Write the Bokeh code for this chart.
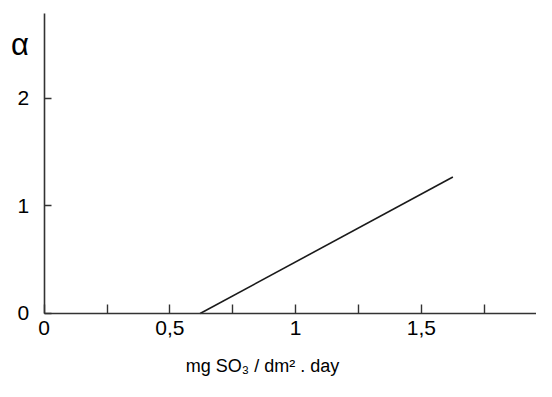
from bokeh.plotting import figure
from bokeh.models import Range1d, FixedTicker, Label
from bokeh.embed import file_html
from bokeh.resources import INLINE

# data
line_x = [0.62, 1.625]
line_y = [0.0, 1.27]
x_major = [0, 0.5, 1, 1.5]
x_minor = [0.25, 0.75, 1.25, 1.75]
x_labels = ["0", "0,5", "1", "1,5"]
y_major = [0, 1, 2]
y_labels = ["0", "1", "2"]
x_title = "mg SO\u2083 / dm\u00b2 . day"
y_title = "\u03b1"

FONT = "Liberation Sans"
W, H = 536, 381

p = figure(width=W, height=H, output_backend="svg", toolbar_location=None,
           x_range=Range1d(-0.1738, 1.9575), y_range=Range1d(-0.6326, 2.9116),
           min_border_left=0, min_border_right=0, min_border_top=0, min_border_bottom=0)
p.outline_line_color = None
p.grid.visible = False
p.background_fill_color = "white"
p.border_fill_color = "white"

p.line(line_x, line_y, line_color="#1a1a1a", line_width=1.6)

xa = p.xaxis[0]
xa.fixed_location = 0
xa.bounds = (0, 1.9575)
xa.ticker = FixedTicker(ticks=x_major, minor_ticks=x_minor)
xa.major_label_overrides = {float(v): s for v, s in zip(x_major, x_labels)}
xa.major_tick_in = 9
xa.major_tick_out = 0
xa.minor_tick_in = 9
xa.minor_tick_out = 0
xa.major_label_standoff = 8
ya = p.yaxis[0]
ya.fixed_location = 0
ya.bounds = (0, 2.79)
ya.ticker = FixedTicker(ticks=y_major)
ya.major_label_overrides = {float(v): s for v, s in zip(y_major, y_labels)}
ya.major_tick_in = 7
ya.major_tick_out = 0
ya.major_label_standoff = 15
for ax in (xa, ya):
    ax.axis_line_color = "#333333"
    ax.axis_line_width = 1.6
    ax.major_tick_line_color = "#333333"
    ax.major_tick_line_width = 1.4
    ax.minor_tick_line_color = "#333333" if ax is xa else None
    ax.minor_tick_line_width = 1.4
    ax.major_label_text_font = FONT
    ax.major_label_text_font_size = "21px"
    ax.major_label_text_color = "black"

p.add_layout(Label(x=-0.0966, y=2.50, text=y_title,
                   text_font=FONT, text_font_size="31px",
                   text_align="center", text_baseline="middle", text_color="black"))
p.add_layout(Label(x=0.868, y=-0.49, text=x_title,
                   text_font=FONT, text_font_size="18px",
                   text_align="center", text_baseline="alphabetic", text_color="black"))

open("out.html", "w").write(file_html(p, INLINE))
